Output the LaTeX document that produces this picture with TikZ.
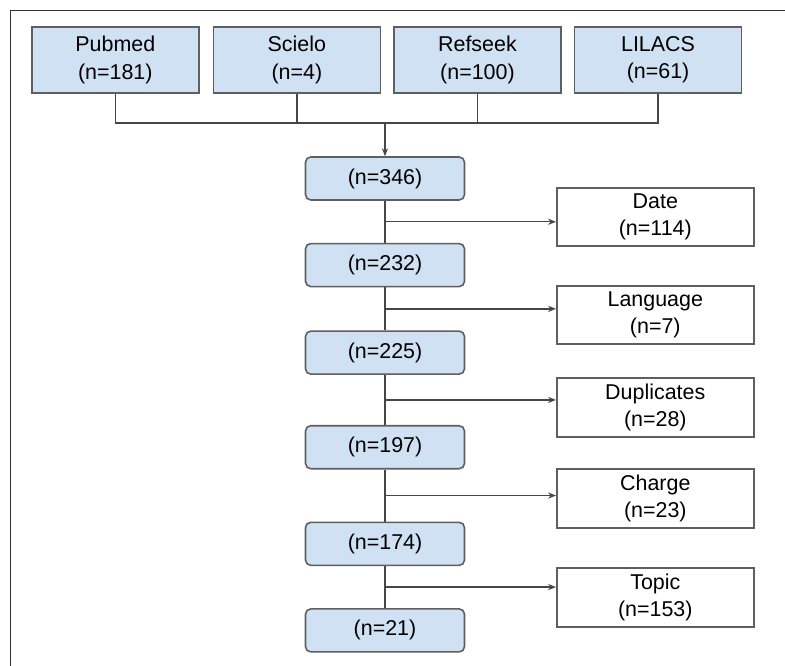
\documentclass[tikz,border=0pt]{standalone}
\usepackage{fontspec}
\setmainfont{Liberation Sans}
\usepackage{tikz}
\usetikzlibrary{positioning, arrows.meta}

\definecolor{boxblue}{RGB}{207,225,242}
\definecolor{edgegray}{RGB}{95,95,95}
\definecolor{linegray}{RGB}{70,70,70}

\begin{document}
\begin{tikzpicture}[
    font=\fontsize{12.2}{15.6}\selectfont,
    >={Stealth[length=4.5pt, width=3.5pt]},
    source/.style={
        rectangle,
        draw=edgegray, fill=boxblue, line width=0.9pt,
        align=center,
        minimum width=3.34cm,
        minimum height=1.32cm
    },
    stage/.style={
        rectangle, rounded corners=3pt,
        draw=edgegray, fill=boxblue, line width=0.9pt,
        align=center,
        minimum width=3.18cm,
        minimum height=0.86cm
    },
    excluded/.style={
        rectangle,
        draw=edgegray, line width=0.9pt,
        align=center,
        minimum width=3.94cm,
        minimum height=1.16cm
    },
    link/.style={draw=linegray, line width=0.8pt}
]

\useasboundingbox (0,0) rectangle (15.7,-13.32);

% frame
\draw[line width=0.9pt, black!80] (0.21,-13.32) -- (0.21,-0.21) -- (15.7,-0.21);

% databases
\node[source, anchor=north west] (pubmed) at (0.62,-0.52) {Pubmed\\(n=181)};
\node[source, right=0.26cm of pubmed] (scielo) {Scielo\\(n=4)};
\node[source, right=0.24cm of scielo] (refseek) {Refseek\\(n=100)};
\node[source, right=0.24cm of refseek] (lilacs) {LILACS\\(n=61)};

% screening chain
\node[stage] (n346) at (7.7,-3.57) {(n=346)};
\node[stage, below=0.84cm of n346] (n232) {(n=232)};
\node[stage, below=0.86cm of n232] (n225) {(n=225)};
\node[stage, below=1.0cm of n225] (n197) {(n=197)};
\node[stage, below=1.04cm of n197] (n174) {(n=174)};
\node[stage, below=0.84cm of n174] (n21) {(n=21)};

% excluded records
\node[excluded, anchor=north west] (date) at (11.12,-3.74) {Date\\(n=114)};
\node[excluded, anchor=north west] (lang) at (11.12,-5.70) {Language\\(n=7)};
\node[excluded, anchor=north west] (dupl) at (11.12,-7.54) {Duplicates\\(n=28)};
\node[excluded, anchor=north west] (charge) at (11.12,-9.36) {Charge\\(n=23)};
\node[excluded, anchor=north west] (topic) at (11.12,-11.34) {Topic\\(n=153)};

% merge of the databases
\coordinate[above=0.66cm of n346] (bus);
\draw[link] (pubmed.south) |- (lilacs.south |- bus) -- (lilacs.south);
\draw[link] (scielo.south) -- (scielo.south |- bus);
\draw[link] (refseek.south) -- (refseek.south |- bus);
\draw[link, ->] (bus) -- (n346.north);

% main line
\draw[link] (n346) -- (n232);
\draw[link] (n232) -- (n225);
\draw[link] (n225) -- (n197);
\draw[link] (n197) -- (n174);
\draw[link] (n174) -- (n21);

\path (n346) -- coordinate[midway] (m1) (n232);
\path (n232) -- coordinate[midway] (m2) (n225);
\path (n225) -- coordinate[midway] (m3) (n197);
\path (n197) -- coordinate[midway] (m4) (n174);
\path (n174) -- coordinate[midway] (m5) (n21);

\draw[link, ->] (m1) -- (m1 -| date.west);
\draw[link, ->] (m2) -- (m2 -| lang.west);
\draw[link, ->] (m3) -- (m3 -| dupl.west);
\draw[link, ->] (m4) -- (m4 -| charge.west);
\draw[link, ->] (m5) -- (m5 -| topic.west);

\end{tikzpicture}
\end{document}
